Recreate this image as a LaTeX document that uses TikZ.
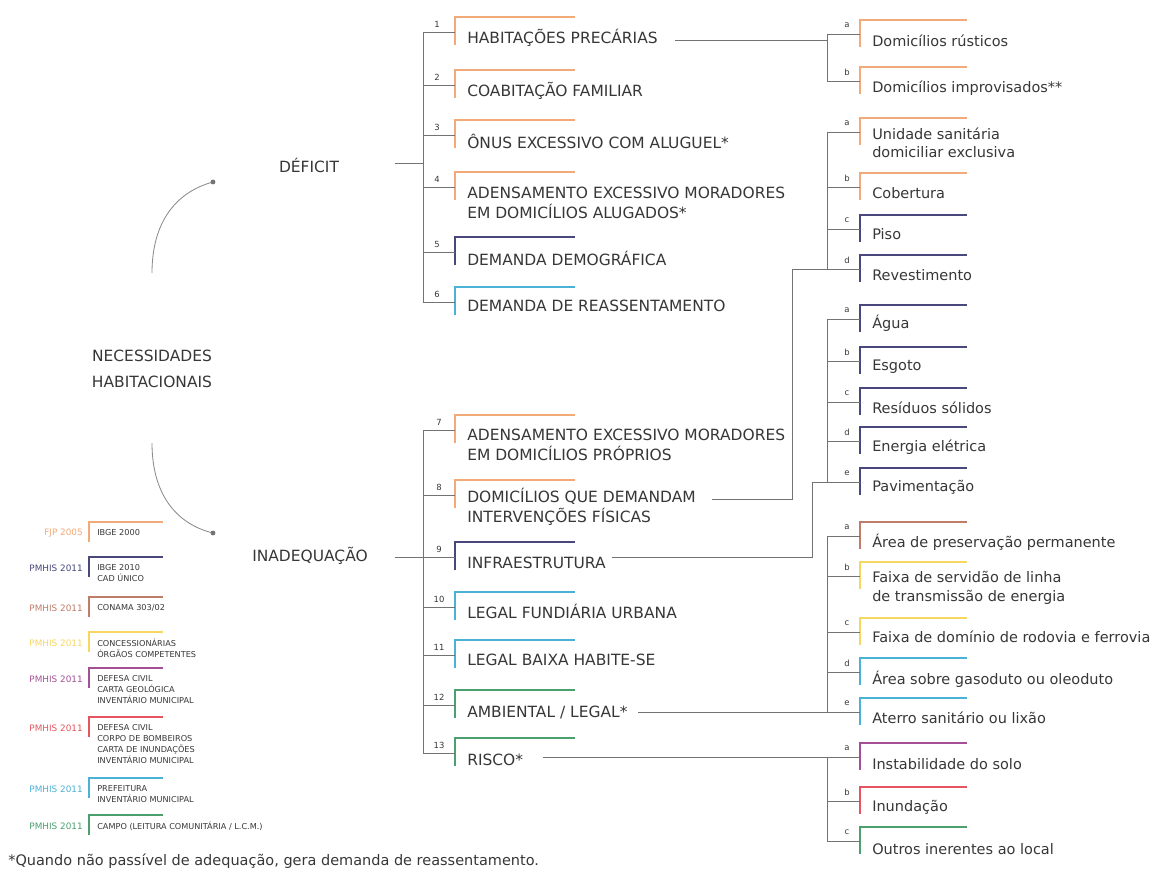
\documentclass[tikz,border=0pt]{standalone}
\usepackage{fontspec}
\setmainfont{DejaVu Sans}
\usetikzlibrary{positioning}

\definecolor{ink}{RGB}{55,55,55}
\definecolor{treegrey}{RGB}{115,115,115}
\definecolor{arcgrey}{RGB}{140,140,140}
\definecolor{corange}{RGB}{242,170,120}
\definecolor{cnavy}{RGB}{72,72,125}
\definecolor{cbrown}{RGB}{190,125,105}
\definecolor{cyellow}{RGB}{247,215,95}
\definecolor{cpurple}{RGB}{165,80,150}
\definecolor{cred}{RGB}{228,85,95}
\definecolor{ccyan}{RGB}{75,178,215}
\definecolor{cgreen}{RGB}{75,160,110}

\begin{document}
\begin{tikzpicture}[x=0.025cm, y=-0.025cm,
  bracket/.pic={\draw[line width=1.5pt] (0,28) -- (0,0) -- (120,0);},
  subbracket/.pic={\draw[line width=1.4pt] (0,27) -- (0,0) -- (107,0);},
  legbracket/.pic={\draw[line width=1pt] (0,20) -- (0,0) -- (74,0);},
  tree/.style={draw=treegrey, line width=0.7pt},
  curveline/.style={draw=arcgrey, line width=0.6pt},
  roottxt/.style={font=\fontsize{11}{18.5}\selectfont, text=ink, align=center, inner sep=0pt},
  itemtxt/.style={font=\fontsize{11}{14.5}\selectfont, text=ink, anchor=west, align=left, inner sep=0pt},
  subtxt/.style={font=\fontsize{10.3}{13}\selectfont, text=ink, anchor=west, align=left, inner sep=0pt},
  numtag/.style={font=\fontsize{6}{7}\selectfont, text=ink, inner sep=0pt},
  legsrc/.style={font=\fontsize{6.3}{7}\selectfont, anchor=east, inner sep=0pt},
  legtxt/.style={font=\fontsize{5.8}{7.9}\selectfont, text=ink, anchor=north west, align=left, inner sep=0pt},
  notetxt/.style={font=\fontsize{10.3}{11}\selectfont, text=ink, anchor=west, inner sep=0pt}]

\fill[white] (0,0) rectangle (1164,873);
\useasboundingbox (0,0) rectangle (1164,873);

% root and the two groups
\node[roottxt] (nh) at (152,369) {NECESSIDADES\\HABITACIONAIS};
\node[roottxt] (deficit) at (309,165) {DÉFICIT};
\node[roottxt] (inadeq) at (310,556) {INADEQUAÇÃO};
\coordinate (upstart) at (152,273);
\coordinate (updot) at (213,182);
\coordinate (downstart) at (152,443);
\coordinate (downdot) at (213,533);
\draw[curveline] (upstart) .. controls (152,222) and (176,192) .. (updot);
\draw[curveline] (downstart) .. controls (152,494) and (176,524) .. (downdot);
\fill[treegrey] (updot) circle (1.7pt);
\fill[treegrey] (downdot) circle (1.7pt);

% deficit items
\foreach \n/\t/\c/\dy/\txt in {
  1/17/corange/21/{HABITAÇÕES PRECÁRIAS},
  2/70/corange/21/{COABITAÇÃO FAMILIAR},
  3/120/corange/21/{ÔNUS EXCESSIVO COM ALUGUEL*},
  4/172/corange/31/{ADENSAMENTO EXCESSIVO MORADORES\\EM DOMICÍLIOS ALUGADOS*},
  5/237/cnavy/21/{DEMANDA DEMOGRÁFICA},
  6/287/ccyan/19/{DEMANDA DE REASSENTAMENTO}}{
  \pic[\c] at (455,\t) {bracket};
  \node[itemtxt] (d\n) at (467,\t+\dy) {\txt};
  \coordinate (kd\n) at (455,\t+15);
  \coordinate (bd\n) at (423,\t+15);
  \node[numtag] (nd\n) at (437,\t+7) {\n};
  \draw[tree] (bd\n) -- (kd\n);
}
\coordinate (defout) at (395,163);
\draw[tree] (defout) -- (bd1 |- defout);
\draw[tree] (bd1) -- (bd6);

% inadequacao items
\foreach \n/\t/\c/\dy/\txt in {
  7/415/corange/30/{ADENSAMENTO EXCESSIVO MORADORES\\EM DOMICÍLIOS PRÓPRIOS},
  8/480/corange/27/{DOMICÍLIOS QUE DEMANDAM\\INTERVENÇÕES FÍSICAS},
  9/542/cnavy/21/{INFRAESTRUTURA},
  10/592/ccyan/19/{LEGAL FUNDIÁRIA URBANA},
  11/640/ccyan/20/{LEGAL BAIXA HABITE-SE},
  12/690/cgreen/22/{AMBIENTAL / LEGAL*},
  13/738/cgreen/22/{RISCO*}}{
  \pic[\c] at (455,\t) {bracket};
  \node[itemtxt] (i\n) at (467,\t+\dy) {\txt};
  \coordinate (ki\n) at (455,\t+15);
  \coordinate (bi\n) at (423,\t+15);
  \node[numtag] (ni\n) at (439,\t+7) {\n};
  \draw[tree] (bi\n) -- (ki\n);
}
\coordinate (inout) at (395,557);
\draw[tree] (inout) -- (bi9);
\draw[tree] (bi7) -- (bi13);

% sub items
\foreach \g/\l/\t/\c/\dy/\txt in {
  hp/a/20/corange/21/{Domicílios rústicos},
  hp/b/67/corange/21/{Domicílios improvisados**},
  ds/a/118/corange/25/{Unidade sanitária\\domiciliar exclusiva},
  ds/b/173/corange/20/{Cobertura},
  ds/c/215/cnavy/19/{Piso},
  ds/d/255/cnavy/20/{Revestimento},
  inf/a/305/cnavy/18/{Água},
  inf/b/347/cnavy/20/{Esgoto},
  inf/c/388/cnavy/20/{Resíduos sólidos},
  inf/d/427/cnavy/20/{Energia elétrica},
  inf/e/468/cnavy/19/{Pavimentação},
  amb/a/522/cbrown/20/{Área de preservação permanente},
  amb/b/562/cyellow/26/{Faixa de servidão de linha\\de transmissão de energia},
  amb/c/618/cyellow/19/{Faixa de domínio de rodovia e ferrovia},
  amb/d/658/ccyan/21/{Área sobre gasoduto ou oleoduto},
  amb/e/698/ccyan/20/{Aterro sanitário ou lixão},
  ris/a/743/cpurple/21/{Instabilidade do solo},
  ris/b/787/cred/20/{Inundação},
  ris/c/827/cgreen/22/{Outros inerentes ao local}}{
  \pic[\c] at (860,\t) {subbracket};
  \node[subtxt] (\g\l) at (872,\t+\dy) {\txt};
  \coordinate (k\g\l) at (860,\t+14);
  \coordinate (b\g\l) at (827,\t+14);
  \node[numtag] (t\g\l) at (847,\t+5) {\l};
  \draw[tree] (b\g\l) -- (k\g\l);
}
\draw[tree] (bhpa) -- (bhpb);
\draw[tree] (bdsa) -- (bdsd);
\draw[tree] (binfa) -- (binfe);
\draw[tree] (bamba) -- (bambe);
\draw[tree] (brisa) -- (brisc);

% links to the sub items
\coordinate (hpout) at (675,40);
\draw[tree] (hpout) -- (bhpa |- hpout);
\coordinate (dsout) at (712,499);
\coordinate (dsjoin) at (792,269);
\draw[tree] (dsout) -| (dsjoin) -- (bdsd);
\coordinate (infout) at (612,557);
\coordinate (infjoin) at (812,482);
\draw[tree] (infout) -| (infjoin) -- (binfe);
\coordinate (ambout) at (638,712);
\draw[tree] (ambout) -- (bambe);
\coordinate (risout) at (543,757);
\draw[tree] (risout) -- (brisa);

% legend
\foreach \c/\t/\src/\txt [count=\i] in {
  corange/522/{FJP 2005}/{IBGE 2000},
  cnavy/557/{PMHIS 2011}/{IBGE 2010\\CAD ÚNICO},
  cbrown/597/{PMHIS 2011}/{CONAMA 303/02},
  cyellow/632/{PMHIS 2011}/{CONCESSIONÁRIAS\\ÓRGÃOS COMPETENTES},
  cpurple/668/{PMHIS 2011}/{DEFESA CIVIL\\CARTA GEOLÓGICA\\INVENTÁRIO MUNICIPAL},
  cred/717/{PMHIS 2011}/{DEFESA CIVIL\\CORPO DE BOMBEIROS\\CARTA DE INUNDAÇÕES\\INVENTÁRIO MUNICIPAL},
  ccyan/778/{PMHIS 2011}/{PREFEITURA\\INVENTÁRIO MUNICIPAL},
  cgreen/815/{PMHIS 2011}/{CAMPO (LEITURA COMUNITÁRIA / L.C.M.)}}{
  \pic[\c] at (89,\t) {legbracket};
  \node[legsrc, text=\c] (src\i) at (83,\t+11) {\src};
  \node[legtxt] (leg\i) at (97,\t+7) {\txt};
}

\node[notetxt] (note) at (8,861) {*Quando não passível de adequação, gera demanda de reassentamento.};
\end{tikzpicture}
\end{document}
